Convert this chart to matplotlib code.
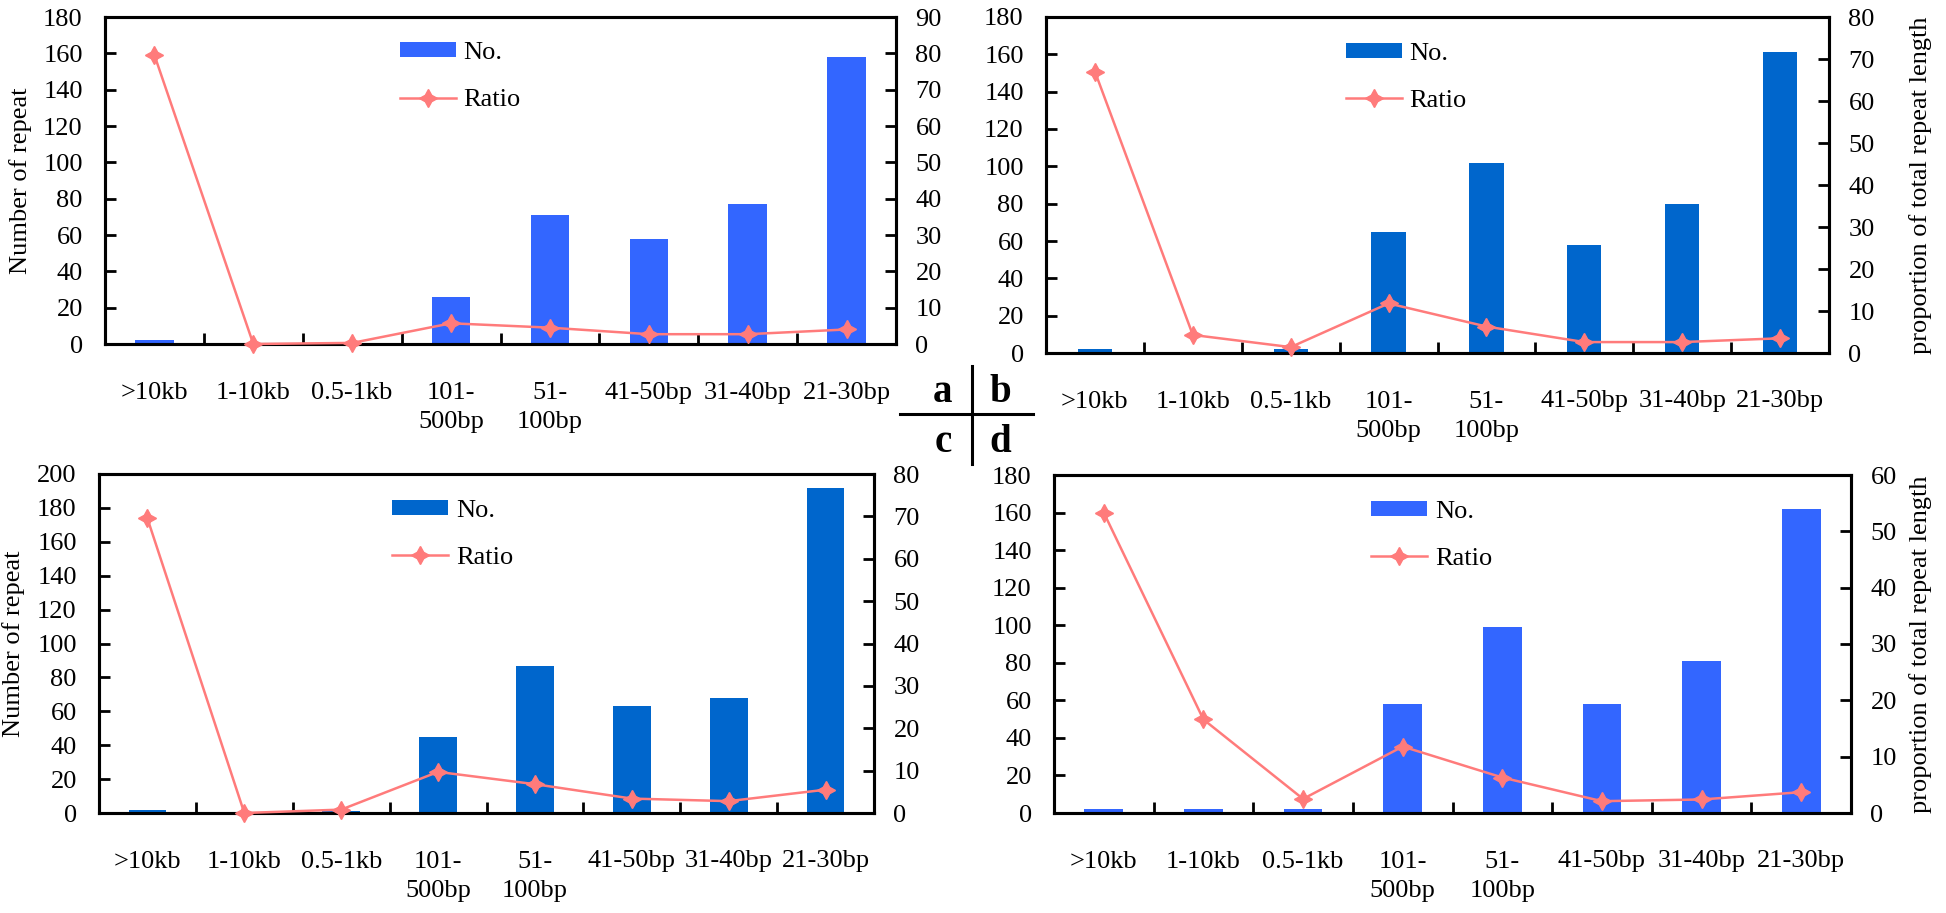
import numpy as np
import matplotlib
matplotlib.use("Agg")
import matplotlib.pyplot as plt

plt.rcParams['font.family'] = ['Liberation Serif', 'DejaVu Serif']

# categories on the x axis
categories = [">10kb", "1-10kb", "0.5-1kb", "101-\n500bp", "51-\n100bp",
              "41-50bp", "31-40bp", "21-30bp"]

# panel a
a_count = [2, 0, 0, 26, 71, 58, 77, 158]
a_ratio = [79.5, 0.0, 0.3, 5.7, 4.5, 2.7, 2.7, 4.0]
# panel b
b_count = [2, 0, 2, 65, 102, 58, 80, 161]
b_ratio = [67.0, 4.3, 1.4, 11.8, 6.3, 2.6, 2.6, 3.5]
# panel c
c_count = [2, 0, 1, 45, 87, 63, 68, 192]
c_ratio = [69.5, 0.0, 0.8, 9.7, 6.8, 3.4, 2.8, 5.5]
# panel d
d_count = [2, 2, 2, 58, 99, 58, 81, 162]
d_ratio = [53.3, 16.6, 2.5, 11.8, 6.3, 2.1, 2.4, 3.7]

W, H = 1946, 913
fig = plt.figure(figsize=(W / 100, H / 100), dpi=100)

FS = 19
line_col = "#FF7B7B"


def px_rect(left, right, top, bottom):
    return [left / W, 1 - bottom / H, (right - left) / W, (bottom - top) / H]


def panel(rect, counts, ratio, bar_col, bar_w, lmax, rmax, left_lab_x, right_lab_x,
          leg_xy):
    ax = fig.add_axes(rect)
    x = np.arange(len(categories))
    bars = ax.bar(x, counts, width=bar_w, color=bar_col, zorder=2)
    ax.set_xlim(-0.5, len(categories) - 0.5)
    ax.set_ylim(0, lmax)
    ax.set_yticks(np.arange(0, lmax + 1, 20))
    ax.set_xticks(x)
    ax.set_xticklabels(categories, fontsize=FS, linespacing=1.45)
    ax.set_xticks(np.arange(0.5, len(categories) - 1, 1), minor=True)
    ax.tick_params(axis='x', which='major', length=0, pad=27)
    ax.tick_params(axis='x', which='minor', direction='in', length=8, width=2)
    ax.tick_params(axis='y', direction='in', length=8, width=2, labelsize=FS, pad=16)

    ax2 = ax.twinx()
    ln, = ax2.plot(x, ratio, color=line_col, lw=1.8, marker=(4, 1, 0), ms=13,
                   clip_on=False, zorder=3, label="Ratio")
    ax2.set_ylim(0, rmax)
    ax2.set_yticks(np.arange(0, rmax + 1, 10))
    ax2.tick_params(axis='y', direction='in', length=8, width=2, labelsize=FS, pad=14)

    for a in (ax, ax2):
        for s in a.spines.values():
            s.set_linewidth(2.2)

    if left_lab_x is not None:
        ax.set_ylabel("Number of repeat", fontsize=FS)
        ax.yaxis.set_label_coords(left_lab_x, 0.5)
    if right_lab_x is not None:
        ax2.set_ylabel("proportion of total repeat length", fontsize=FS)
        ax2.yaxis.set_label_coords(right_lab_x, 0.5)

    ax2.legend([bars, ln], ["No.", "Ratio"], loc='upper left', bbox_to_anchor=leg_xy,
               frameon=False, fontsize=FS, handlelength=2.1, handleheight=0.5,
               labelspacing=0.95, handletextpad=0.3, borderaxespad=0)
    return ax, ax2


panel(px_rect(105, 896, 17, 344), a_count, a_ratio, "#3366FF", 0.39, 180, 90,
      -0.092, None, (0.36, 0.955))
panel(px_rect(1046, 1829, 17, 353), b_count, b_ratio, "#0066CC", 0.35, 180, 80,
      None, 1.102, (0.37, 0.955))
panel(px_rect(99, 874, 474, 813), c_count, c_ratio, "#0066CC", 0.39, 200, 80,
      -0.096, None, (0.365, 0.955))
panel(px_rect(1054, 1851, 475, 813), d_count, d_ratio, "#3366FF", 0.39, 180, 60,
      None, 1.073, (0.385, 0.955))

# central a|b / c|d key
fig.add_artist(plt.Line2D([900 / W, 1033 / W], [1 - 414 / H, 1 - 414 / H],
                          color="black", lw=2.2))
fig.add_artist(plt.Line2D([972 / W, 972 / W], [1 - 366 / H, 1 - 464 / H],
                          color="black", lw=2.2))
for s, xx, yy in [("a", 943, 392), ("b", 1000, 392), ("c", 943, 442), ("d", 1000, 442)]:
    fig.text(xx / W, 1 - yy / H, s, fontsize=28, fontweight='bold',
             ha='center', va='center')

fig.savefig("out.png", dpi=100)
